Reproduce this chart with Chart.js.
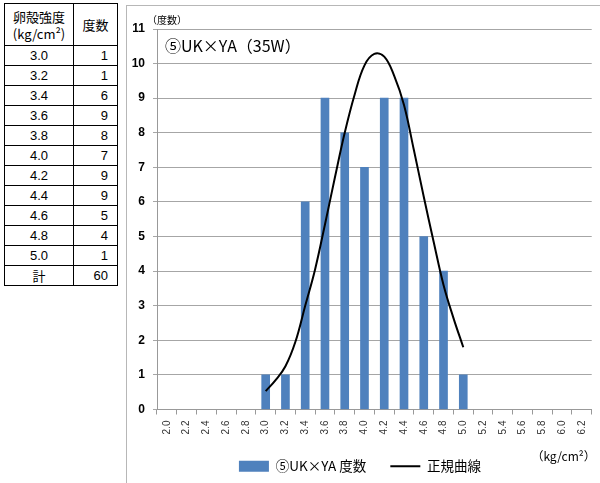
<!DOCTYPE html>
<html lang="ja">
<head>
<meta charset="UTF-8">
<title>卵殻強度 度数分布</title>
<script src="https://cdn.jsdelivr.net/npm/chart.js@4.4.0/dist/chart.umd.min.js"></script>
<style>
  body { margin: 0; background: #fff; font-family: "Noto Sans CJK JP", sans-serif; }
  #freqTable { position: absolute; left: 4px; top: 3px; border-collapse: collapse; font-size: 13px; color: #000; }
  #freqTable td { border: 1px solid #000; padding: 0; height: 19px; line-height: 19px; font-family: "Liberation Sans", "Noto Sans CJK JP", sans-serif; }
  #freqTable td.c1 { width: 68px; text-align: center; }
  #freqTable td.c2 { width: 44px; text-align: right; padding-right: 9px; box-sizing: border-box; }
  #freqTable tr.head td { height: 41px; line-height: 17px; text-align: center; padding-right: 0; font-family: "Noto Sans CJK JP", sans-serif; }
  #chartBox { position: absolute; left: 126px; top: 5px; width: 700px; height: 700px; border: 1px solid #b7b7b7; }
  #chartWrap { position: relative; width: 473px; height: 477px; }
</style>
</head>
<body>
<table id="freqTable"></table>
<div id="chartBox">
  <div id="chartWrap"><canvas id="freqChart"></canvas></div>
</div>
<script>
// x categories (kg/cm2) and tick labels
const xLabels = ['2.0','2.2','2.4','2.6','2.8','3.0','3.2','3.4','3.6','3.8','4.0','4.2','4.4','4.6','4.8','5.0','5.2','5.4','5.6','5.8','6.0','6.2'];
// observed counts per class
const freqCounts = [null,null,null,null,null,1,1,6,9,8,7,9,9,5,4,1,null,null,null,null,null,null];
// normal curve, every 0.1
const curveX = [3.0,3.1,3.2,3.3,3.4,3.5,3.6,3.7,3.8,3.9,4.0,4.1,4.2,4.3,4.4,4.5,4.6,4.7,4.8,4.9,5.0];
const curveY = [0.53,0.85,1.25,1.95,3.0,4.05,5.35,6.7,8.0,9.1,9.95,10.28,10.2,9.65,8.8,7.5,6.15,4.85,3.6,2.65,1.8];

const barName = '⑤UK×YA 度数';
const lineName = '正規曲線';
const chartTitle = '⑤UK×YA（35W）';
const yUnit = '（度数）';
const xUnit = '（kg/cm²）';
const yMax = 11;

// table on the left
const table = document.getElementById('freqTable');
let html = '<tr class="head"><td class="c1">卵殻強度<br>(kg/cm²)</td><td class="c2">度数</td></tr>';
let total = 0;
xLabels.forEach((lab, i) => {
    if (freqCounts[i] == null) return;
    total += freqCounts[i];
    html += '<tr><td class="c1">' + lab + '</td><td class="c2">' + freqCounts[i] + '</td></tr>';
});
html += '<tr><td class="c1" style="font-family:\'Noto Sans CJK JP\'">計</td><td class="c2">' + total + '</td></tr>';
table.innerHTML = html;

// extra texts inside the chart
const extraText = {
    id: 'extraText',
    afterDraw(chart) {
        const { ctx, chartArea } = chart;
        ctx.save();
        ctx.fillStyle = '#000';
        ctx.textBaseline = 'alphabetic';
        ctx.font = '16px "Noto Sans CJK JP"';
        ctx.fillText(chartTitle, chartArea.left + 8, chartArea.top + 23);
        ctx.font = '10px "Noto Sans CJK JP"';
        ctx.fillText(yUnit, chartArea.left - 10, chartArea.top - 5);
        ctx.font = '12px "Noto Sans CJK JP"';
        ctx.textAlign = 'right';
        ctx.fillText(xUnit, chartArea.right + 4, chartArea.bottom + 51);
        ctx.restore();
    }
};

// category i sits in the middle of its slot, so the linear axis runs half a step past each end
const step = 0.2;
const xMinLin = parseFloat(xLabels[0]) - step / 2;
const xMaxLin = parseFloat(xLabels[xLabels.length - 1]) + step / 2;

const ctx = document.getElementById('freqChart').getContext('2d');
new Chart(ctx, {
    type: 'bar',
    data: {
        labels: xLabels,
        datasets: [{
            label: barName,
            data: freqCounts,
            xAxisID: 'x',
            backgroundColor: '#4f81bd',
            borderWidth: 0,
            grouped: false,
            barThickness: 8,
            order: 1
        }, {
            type: 'line',
            label: lineName,
            data: curveX.map((x, i) => ({ x: x, y: curveY[i] })),
            xAxisID: 'xLin',
            borderColor: '#000',
            backgroundColor: '#000',
            borderWidth: 2,
            pointRadius: 0,
            tension: 0.4,
            fill: false,
            order: 0
        }]
    },
    options: {
        responsive: true,
        maintainAspectRatio: false,
        animation: false,
        layout: { padding: { top: 23, right: 7, bottom: 0, left: 0 } },
        plugins: {
            tooltip: { enabled: false },
            legend: {
                position: 'bottom',
                labels: {
                    usePointStyle: true,
                    pointStyleWidth: 30,
                    boxHeight: 11,
                    padding: 24,
                    color: '#000',
                    font: { family: '"Noto Sans CJK JP"', size: 13.5 },
                    sort: (a, b) => a.datasetIndex - b.datasetIndex,
                    generateLabels(chart) {
                        const items = Chart.defaults.plugins.legend.labels.generateLabels(chart);
                        items.forEach(it => {
                            it.pointStyle = it.datasetIndex === 0 ? 'rect' : 'line';
                            if (it.datasetIndex === 1) { it.lineWidth = 2; it.strokeStyle = '#000'; }
                        });
                        return items;
                    }
                }
            }
        },
        scales: {
            x: {
                type: 'category',
                offset: true,
                grid: { display: true, offset: true, drawOnChartArea: false, drawTicks: true, tickLength: 5, color: '#999' },
                border: { display: true, color: '#999' },
                ticks: {
                    minRotation: 90, maxRotation: 90, padding: 6,
                    color: '#333',
                    font: { family: '"Liberation Sans"', size: 10 }
                },
                afterFit(scale) { scale.height = 26; }
            },
            xLin: {
                type: 'linear',
                display: false,
                offset: false,
                grid: { offset: false },
                min: xMinLin,
                max: xMaxLin
            },
            y: {
                min: 0, max: yMax,
                grid: { color: '#a6a6a6', tickLength: 4 },
                border: { display: true, color: '#999' },
                ticks: {
                    stepSize: 1, padding: 8, color: '#000',
                    font: { family: '"Liberation Sans"', size: 12, weight: 'bold' }
                },
                afterFit(scale) { scale.width = 30; }
            }
        }
    },
    plugins: [extraText]
});
</script>
</body>
</html>
